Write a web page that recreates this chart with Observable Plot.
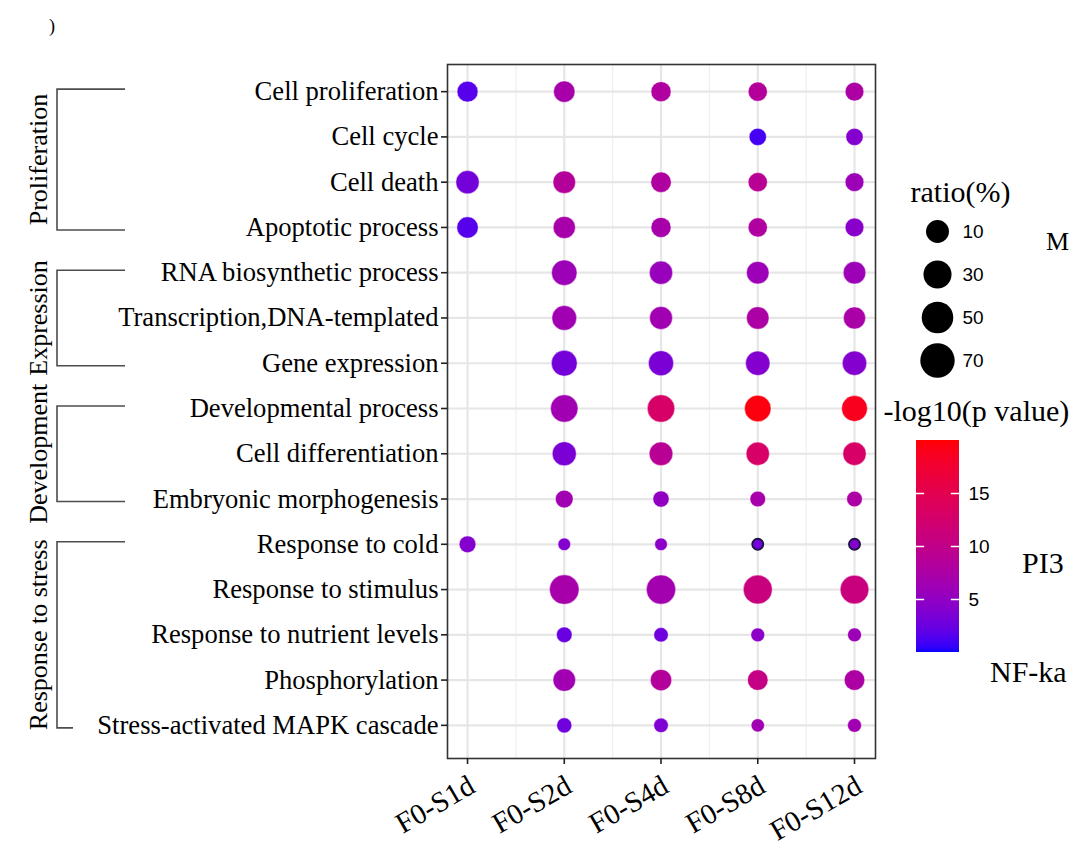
<!DOCTYPE html>
<html><head><meta charset="utf-8">
<script src="https://cdn.jsdelivr.net/npm/d3@7"></script>
<script src="https://cdn.jsdelivr.net/npm/@observablehq/plot@0.6"></script>
<style>
html,body{margin:0;padding:0;background:#fff;overflow:hidden;}
#page{position:relative;width:1070px;height:849px;overflow:hidden;}
#page > svg{position:absolute;}
</style></head><body><div id="page"></div>
<script>
// ---------- data ----------
const columns = ["F0-S1d", "F0-S2d", "F0-S4d", "F0-S8d", "F0-S12d"];
const terms = [
  "Cell proliferation", "Cell cycle", "Cell death", "Apoptotic process",
  "RNA biosynthetic process", "Transcription,DNA-templated", "Gene expression",
  "Developmental process", "Cell differentiation", "Embryonic morphogenesis",
  "Response to cold", "Response to stimulus", "Response to nutrient levels",
  "Phosphorylation", "Stress-activated MAPK cascade"
];
const groupNames = ["Proliferation", "Expression", "Development", "Response to stress"];
const groupFirst = ["Cell proliferation", "RNA biosynthetic process", "Developmental process", "Response to cold"];
const groupLast  = ["Apoptotic process", "Gene expression", "Embryonic morphogenesis", "Stress-activated MAPK cascade"];

// ratio (%) per column, in term order
const ratioS1d  = [25, null, 31, 26, null, null, null, null, null, null, 16, null, null, null, null];
const ratioS2d  = [26, null, 29, 28, 37, 35, 38, 43, 33, 18, 9, 50, 14, 29, 13];
const ratioS4d  = [23, null, 24, 23, 31, 30, 36, 43, 32, 15, 9, 49, 12, 26, 12];
const ratioS8d  = [21, 17, 21, 21, 29, 29, 34, 40, 31, 14, 7, 48, 11, 24, 10];
const ratioS12d = [20, 17, 20, 20, 29, 28, 34, 38, 31, 14, 7, 47, 11, 24, 11];
// -log10(p value) per column, in term order
const logpS1d  = [1.6, null, 3, 1.6, null, null, null, null, null, null, 4, null, null, null, null];
const logpS2d  = [7, null, 8.4, 7, 6, 6.4, 3, 6.4, 3.4, 6.4, 4, 7, 2.4, 6.4, 2.8];
const logpS4d  = [8, null, 8, 7, 5.6, 6.4, 3.4, 13, 9, 5, 4.6, 6.6, 2.8, 8.4, 3.6];
const logpS8d  = [8.4, 1, 9, 8, 6, 7.6, 4, 19.5, 13, 7, 3, 11, 4.6, 10.4, 6.4];
const logpS12d = [7.6, 4, 6, 4.4, 6, 7.2, 4, 18.8, 13, 7.6, 4, 11, 6, 7.6, 6.4];

const sizeBreaks = [10, 30, 50, 70];
const colorTicks = [5, 10, 15];
const sideLabels = ["M", "PI3", "NF-ka"];

// ---------- table ----------
const ratioCols = [ratioS1d, ratioS2d, ratioS4d, ratioS8d, ratioS12d];
const logpCols = [logpS1d, logpS2d, logpS4d, logpS8d, logpS12d];
const rows = [];
columns.forEach((col, j) => terms.forEach((term, i) => {
  if (ratioCols[j][i] != null) rows.push({col, xi: j, term, ratio: ratioCols[j][i], logp: logpCols[j][i]});
}));
const outlined = rows.filter(d => d.term === "Response to cold" && (d.col === "F0-S8d" || d.col === "F0-S12d"));

const SERIF = "Liberation Serif, Times New Roman, serif";
const SANS = "Liberation Sans, Arial, sans-serif";
const colorOpts = {type: "linear", domain: [0, 20], range: ["#0000ff", "#ff0000"], interpolate: "lab"};

const page = document.getElementById("page");

// ---------- main plot ----------
const main = Plot.plot({
  width: 900, height: 849,
  marginLeft: 447, marginRight: 25, marginTop: 64, marginBottom: 91,
  style: {fontFamily: SERIF, fontSize: "26.6px", color: "#000", background: "transparent", overflow: "visible"},
  x: {domain: [-0.207, 4.217], axis: null},
  y: {type: "point", domain: terms, padding: 0.6, insetBottom: 6, round: false, axis: null},
  r: {type: "sqrt", domain: [0, 70], range: [0, 17.5]},
  color: colorOpts,
  marks: [
    Plot.ruleX([0.5, 1.5, 2.5, 3.5], {stroke: "#f0f0f0", strokeWidth: 1.3}),
    Plot.gridX([0, 1, 2, 3, 4], {stroke: "#e6e6e6", strokeOpacity: 1, strokeWidth: 2.2}),
    Plot.gridY({stroke: "#e6e6e6", strokeOpacity: 1, strokeWidth: 2.2}),
    Plot.dot(rows, {x: "xi", y: "term", r: "ratio", fill: "logp", stroke: "#fff", strokeOpacity: 0.45, strokeWidth: 1}),
    Plot.dot(outlined, {x: "xi", y: "term", r: "ratio", fill: "logp", stroke: "#1b1340", strokeWidth: 1.8}),
    Plot.frame({stroke: "#333", strokeWidth: 1.6}),
    Plot.axisY({tickSize: 6, tickPadding: 3, fontSize: 26.6, label: null, stroke: "#222", strokeWidth: 1.6}),
    Plot.axisX([0, 1, 2, 3, 4], {tickSize: 6, tickFormat: () => "", label: null, stroke: "#222", strokeWidth: 1.6}),
    Plot.text(columns, {x: (d, i) => i, text: d => d, frameAnchor: "bottom", rotate: -30, textAnchor: "end",
      lineAnchor: "top", dx: -1, dy: 15, fontSize: 29, fill: "#000"})
  ]
});
main.style.left = "0px"; main.style.top = "0px";
page.appendChild(main);

// group brackets, placed with the main plot's y scale
const ys = main.scale("y");
const sel = d3.select(main);
const gb = sel.append("g").attr("fill", "none").attr("stroke", "#4d4d4d").attr("stroke-width", 1.6);
const gt = sel.append("g").attr("font-family", SERIF).attr("font-size", 26).attr("fill", "#000");
groupNames.forEach((name, k) => {
  const top = ys.apply(groupFirst[k]) - 2;
  const bot = ys.apply(groupLast[k]) + 3;
  const xr = k === groupNames.length - 1 ? 73 : 125;
  gb.append("path").attr("d", `M125,${top}H57V${bot}H${xr}`);
  gt.append("text").attr("text-anchor", "middle")
    .attr("transform", `translate(47,${(top + bot) / 2}) rotate(-90)`).text(name);
});

// ---------- size legend ----------
const sizeLeg = Plot.plot({
  width: 190, height: 220, margin: 0,
  style: {fontFamily: SERIF, color: "#000", background: "transparent", overflow: "visible"},
  x: {axis: null}, y: {type: "point", domain: sizeBreaks, range: [61, 190], padding: 0, round: false, axis: null},
  r: {type: "sqrt", domain: [0, 70], range: [8, 17.2]},
  marks: [
    Plot.text(["ratio(%)"], {frameAnchor: "top-left", dx: 30, dy: 31, lineAnchor: "bottom", textAnchor: "start", fontSize: 30, fill: "#000"}),
    Plot.dot(sizeBreaks, {y: d => d, r: d => d, frameAnchor: "left", dx: 57, fill: "#000"}),
    Plot.text(sizeBreaks, {y: d => d, text: d => String(d), frameAnchor: "left", dx: 82, textAnchor: "start", fontFamily: SANS, fontSize: 19, fill: "#000"})
  ]
});
sizeLeg.style.left = "880px"; sizeLeg.style.top = "170px";
page.appendChild(sizeLeg);

// ---------- colour bar ----------
const steps = d3.range(0, 20, 0.1);
const colorLeg = Plot.plot({
  width: 190, height: 300, margin: 0,
  style: {fontFamily: SERIF, color: "#000", background: "transparent", overflow: "visible"},
  x: {domain: [0, 1], range: [36, 79], axis: null},
  y: {domain: [0, 20], range: [272, 60], axis: null},
  color: colorOpts,
  marks: [
    Plot.text(["-log10(p value)"], {frameAnchor: "top-left", dx: 3, dy: 40, lineAnchor: "bottom", textAnchor: "start", fontSize: 30, fill: "#000"}),
    Plot.rect(steps, {x1: 0, x2: 1, y1: d => d, y2: d => Math.min(20, d + 0.15), fill: d => d + 0.05, shapeRendering: "crispEdges"}),
    Plot.ruleY(colorTicks, {x1: 0, x2: 0.19, stroke: "#fff", strokeWidth: 1.5}),
    Plot.ruleY(colorTicks, {x1: 0.81, x2: 1, stroke: "#fff", strokeWidth: 1.5}),
    Plot.text(colorTicks, {y: d => d, x: 1, dx: 9, text: d => String(d), textAnchor: "start", fontFamily: SANS, fontSize: 19, fill: "#000"})
  ]
});
colorLeg.style.left = "880px"; colorLeg.style.top = "380px";
page.appendChild(colorLeg);

// ---------- partially visible neighbour-panel text ----------
const over = d3.select(page).append("svg").attr("width", 1070).attr("height", 849)
  .style("left", "0px").style("top", "0px").style("pointer-events", "none")
  .attr("font-family", SERIF).attr("fill", "#000");
over.append("text").attr("x", 1046).attr("y", 250).attr("font-size", 26).text(sideLabels[0]);
over.append("text").attr("x", 1022).attr("y", 573).attr("font-size", 30).text(sideLabels[1]);
over.append("text").attr("x", 990).attr("y", 682).attr("font-size", 30).text(sideLabels[2]);
over.append("text").attr("x", 49).attr("y", 32).attr("font-size", 18).text(")");
</script>
</body></html>
